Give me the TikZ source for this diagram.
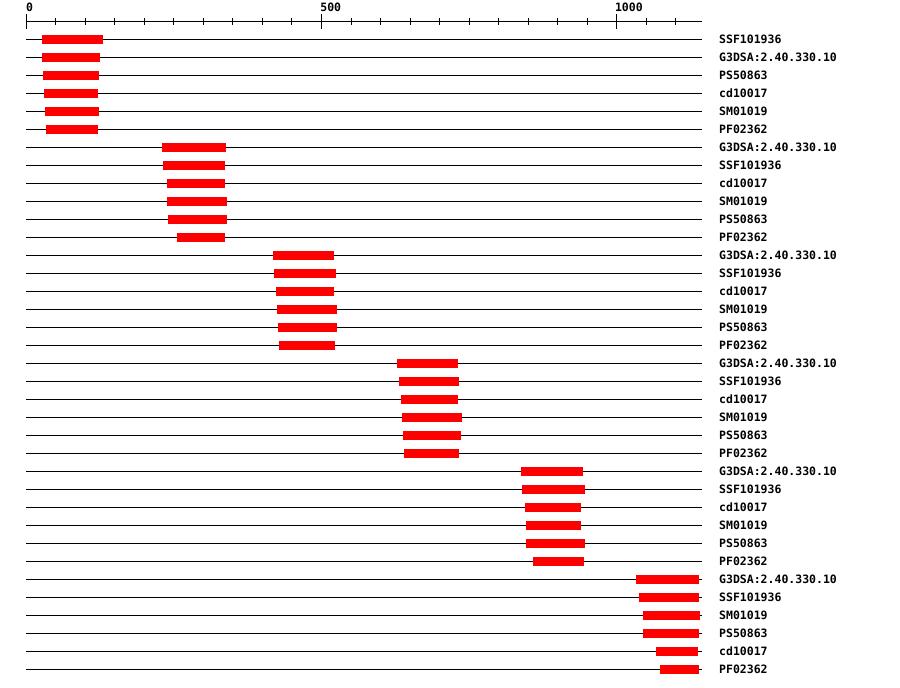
\documentclass[tikz,border=0pt]{standalone}
\usepackage{fontspec}
\newfontfamily\monof{DejaVu Sans Mono}
\begin{document}
\begin{tikzpicture}[x=1pt,y=-1pt,
  lbl/.style={anchor=base west, inner sep=0pt, font=\monof\bfseries\fontsize{11.5}{12}\selectfont},
  axisline/.style={line width=1pt, black},
  rowline/.style={line width=1pt, black},
  bar/.style={fill=red, draw=none}]
\useasboundingbox (0,0) rectangle (900,688);
\fill[white] (0,0) rectangle (900,688);
% axis
\draw[axisline] (26.3,21.3) -- (701.7,21.3);
\foreach \i in {1,...,22} {
  \draw[axisline] ({26.3+29.52*\i},18) -- ({26.3+29.52*\i},24.5);
}
\foreach \i in {0,10,20} {
  \draw[axisline] ({26.3+29.52*\i},14) -- ({26.3+29.52*\i},28.5);
}
\node[lbl] (t0) at (26.0,12) {0};
\node[lbl] (t500) at (320.2,12) {500};
\node[lbl] (t1000) at (614.8,12) {1000};
% rows
\foreach \a/\b/\t [count=\i from 0] in {
  42/103/SSF101936, 42/100/{G3DSA:2.40.330.10}, 43/99/PS50863, 44/98/cd10017, 45/99/SM01019, 46/98/PF02362,
  162/226/{G3DSA:2.40.330.10}, 163/225/SSF101936, 167/225/cd10017, 167/227/SM01019, 168/227/PS50863, 177/225/PF02362,
  273/334/{G3DSA:2.40.330.10}, 274/336/SSF101936, 276/334/cd10017, 277/337/SM01019, 278/337/PS50863, 279/335/PF02362,
  397/458/{G3DSA:2.40.330.10}, 399/459/SSF101936, 401/458/cd10017, 402/462/SM01019, 403/461/PS50863, 404/459/PF02362,
  521/583/{G3DSA:2.40.330.10}, 522/585/SSF101936, 525/581/cd10017, 526/581/SM01019, 526/585/PS50863, 533/584/PF02362,
  636/699/{G3DSA:2.40.330.10}, 639/699/SSF101936, 643/700/SM01019, 643/699/PS50863, 656/698/cd10017, 660/699/PF02362} {
  \pgfmathsetmacro{\yy}{39.3+18*\i}
  \draw[rowline] (26.3,\yy) -- (701.7,\yy);
  \fill[bar] (\a,\yy-4.4) rectangle (\b,\yy+4.6);
  \node[lbl] (l\i) at (719,\yy+4) {\t};
}
\end{tikzpicture}
\end{document}
